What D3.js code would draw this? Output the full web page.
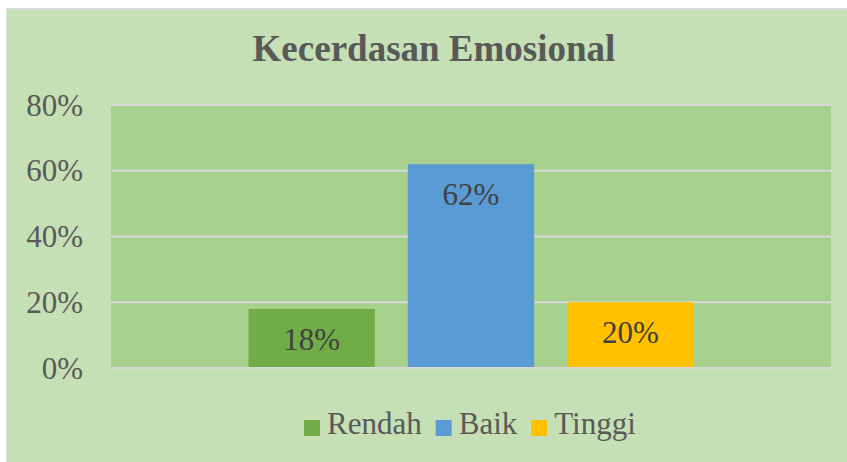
<!DOCTYPE html>
<html>
<head>
<meta charset="utf-8">
<script src="https://cdn.jsdelivr.net/npm/d3@7"></script>
<style>
  html, body { margin: 0; padding: 0; background: #fff; overflow: hidden; }
  svg { display: block; }
</style>
</head>
<body>
<div id="chart"></div>
<script>
// series (one category, three series like the excel chart)
var seriesNames = ['Rendah', 'Baik', 'Tinggi'];
var seriesValues = [0.18, 0.62, 0.20];
var seriesColors = ['#70ad47', '#5b9bd5', '#ffc000'];
var yTicks = [0, 0.2, 0.4, 0.6, 0.8];
var chartTitle = 'Kecerdasan Emosional';

var fontFamily = '"Liberation Serif", "Times New Roman", serif';
var width = 847, height = 462;
var margin = { top: 105, right: 16, bottom: 94, left: 111 };
var innerWidth = width - margin.left - margin.right,
	innerHeight = height - margin.top - margin.bottom;

var svg = d3.select('#chart')
	.append('svg')
		.attr('width', width)
		.attr('height', height)
		.attr('font-family', fontFamily);

// chart area background, border only shows on left and top
svg.append('rect')
	.attr('x', 6)
	.attr('y', 8)
	.attr('width', width - 6)
	.attr('height', height - 8)
	.style('fill', '#c5e0b4');

svg.append('path')
	.attr('d', `M7,${height} L7,9 L${width},9`)
	.style('fill', 'none')
	.style('stroke', '#d9d9d9')
	.style('stroke-width', 2);

svg.append('text')
	.text(chartTitle)
	.attr('x', 434)
	.attr('y', 61)
	.attr('text-anchor', 'middle')
	.style('font-family', fontFamily)
	.style('font-size', '37px')
	.style('font-weight', 'bold')
	.style('fill', '#595959');

var chartInner = svg.append('g')
	.attr('transform', `translate(${margin.left},${margin.top})`);

chartInner.append('rect')
	.attr('width', innerWidth)
	.attr('height', innerHeight)
	.style('fill', '#a9d18e');

var y = d3.scaleLinear()
	.range([innerHeight, 0])
	.domain([0, 0.8]);

// single category band, series inside it
var x0 = d3.scaleBand()
	.domain([''])
	.range([0, innerWidth])
	.paddingInner(0)
	.paddingOuter(0.309);

var x1 = d3.scaleBand()
	.domain(seriesNames)
	.range([0, x0.bandwidth()])
	.paddingInner(0.207)
	.paddingOuter(0);

// gridlines
chartInner.append('g')
	.selectAll('line')
	.data(yTicks)
	.join('line')
		.attr('x1', 0)
		.attr('x2', innerWidth)
		.attr('y1', d => y(d))
		.attr('y2', d => y(d))
		.style('stroke', '#d9d9d9')
		.style('stroke-width', 2);

// y axis labels
var yAxis = d3.axisLeft(y)
	.tickValues(yTicks)
	.tickFormat(d3.format('.0%'))
	.tickSize(0)
	.tickPadding(28);

var yAxisG = chartInner.append('g').call(yAxis);
yAxisG.select('.domain').remove();
yAxisG.selectAll('text')
	.attr('dy', 10)
	.style('font-size', '31px')
	.style('font-family', fontFamily)
	.style('fill', '#595959');

var data = seriesNames.map((name, i) => ({ name: name, value: seriesValues[i], color: seriesColors[i] }));

var group = chartInner.append('g')
	.attr('transform', `translate(${x0('')},0)`);

group.selectAll('rect.bar')
	.data(data)
	.join('rect')
		.attr('class', 'bar')
		.attr('x', d => x1(d.name))
		.attr('width', x1.bandwidth())
		.attr('y', d => y(d.value))
		.attr('height', d => innerHeight - y(d.value) - 1)
		.style('fill', d => d.color);

group.selectAll('text.label')
	.data(data)
	.join('text')
		.attr('class', 'label')
		.text(d => d3.format('.0%')(d.value))
		.attr('x', d => x1(d.name) + x1.bandwidth() / 2)
		.attr('y', d => y(d.value) + 41)
		.attr('text-anchor', 'middle')
		.style('font-family', fontFamily)
		.style('font-size', '31px')
		.style('fill', '#404040');

// legend
var legend = svg.append('g')
	.attr('transform', 'translate(0,434)');

var lx = 304;
data.forEach(d => {
	legend.append('rect')
		.attr('x', lx)
		.attr('y', -14)
		.attr('width', 16)
		.attr('height', 16)
		.style('fill', d.color);
	var t = legend.append('text')
		.text(d.name)
		.attr('x', lx + 23)
		.attr('y', 0)
		.style('font-family', fontFamily)
		.style('font-size', '31px')
		.style('fill', '#595959');
	lx += 23 + t.node().getComputedTextLength() + 14;
});
</script>
</body>
</html>
